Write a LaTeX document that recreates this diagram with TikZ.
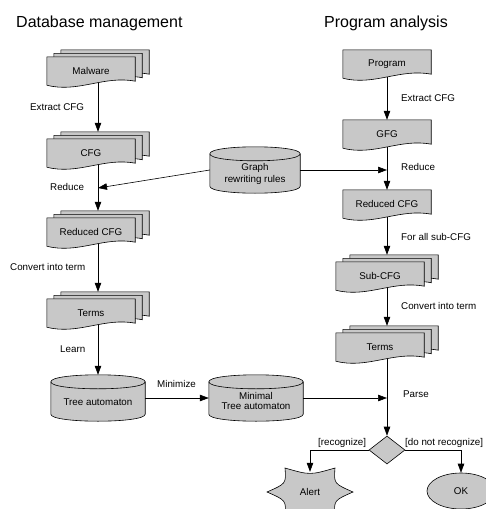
\documentclass[tikz,border=0pt]{standalone}
\usepackage{fontspec}
\setmainfont{Liberation Sans}
\usetikzlibrary{shapes.geometric,arrows.meta,calc}
\pgfdeclarelayer{bg}
\pgfsetlayers{bg,main}
\definecolor{shapegray}{RGB}{200,200,200}
\tikzset{
 shp/.style={draw=black, fill=shapegray, line width=0.6pt},
 shpline/.style={draw=black, line width=0.6pt},
 docbox/.style={minimum width=88pt, minimum height=28pt, inner sep=0pt, font=\fontsize{9.8}{12}\selectfont},
 cylnode/.style={minimum width=94pt, minimum height=46pt, inner sep=0pt, align=center, font=\fontsize{9.8}{12.5}\selectfont},
 lbl/.style={anchor=base west, inner sep=0pt, font=\fontsize{9.8}{12}\selectfont},
 ttl/.style={anchor=base west, inner sep=0pt, font=\fontsize{16}{19}\selectfont},
 arr/.style={draw=black, line width=0.6pt, -{Triangle[length=9pt,width=6.5pt]}},
 conn/.style={draw=black, line width=0.6pt},
}
% document shape around node #1, shifted by (#2,#3)
\newcommand{\mydoc}[3]{%
 \path[shp] ([shift={(#2,#3)}]#1.north west) -- ([shift={(#2,#3)}]#1.north east)
  -- ([shift={(#2,#3-4)}]#1.south east)
  .. controls ([shift={(#2-31,#3-10)}]#1.south east) and ([shift={(#2+31,#3+8)}]#1.south west)
  .. ([shift={(#2,#3)}]#1.south west) -- cycle;}
% cylinder around node #1
\newcommand{\mycyl}[1]{%
 \path[shp] ([shift={(0,7)}]#1.north west) -- ([shift={(0,-7)}]#1.south west)
  .. controls ([shift={(0,2.33)}]#1.south west) and ([shift={(0,2.33)}]#1.south east)
  .. ([shift={(0,-7)}]#1.south east) -- ([shift={(0,7)}]#1.north east)
  .. controls ([shift={(0,-2.33)}]#1.north east) and ([shift={(0,-2.33)}]#1.north west)
  .. cycle;
 \path[shpline] ([shift={(0,7)}]#1.north west)
  .. controls ([shift={(0,16.33)}]#1.north west) and ([shift={(0,16.33)}]#1.north east)
  .. ([shift={(0,7)}]#1.north east);}
% six-point star around node #1
\newcommand{\mystar}[1]{%
 \path[shp] ([shift={(43,0)}]#1.center)
  .. controls ([shift={(23.8,8.4)}]#1.center) .. ([shift={(25,24)}]#1.center)
  .. controls ([shift={(0,16.8)}]#1.center) .. ([shift={(-25,24)}]#1.center)
  .. controls ([shift={(-23.8,8.4)}]#1.center) .. ([shift={(-43,0)}]#1.center)
  .. controls ([shift={(-23.8,-8.4)}]#1.center) .. ([shift={(-25,-24)}]#1.center)
  .. controls ([shift={(0,-16.8)}]#1.center) .. ([shift={(25,-24)}]#1.center)
  .. controls ([shift={(23.8,-8.4)}]#1.center) .. cycle;}
\begin{document}
\begin{tikzpicture}[x=1pt,y=-1pt]
\useasboundingbox (0,0) rectangle (485,509);
% titles
\node[ttl] (t1) at (16,27) {Database management};
\node[ttl] (t2) at (324,27) {Program analysis};
% left column
\node[docbox] (malware) at (91,71) {Malware};
\node[docbox] (cfg) at (91,153) {CFG};
\node[docbox] (redcfg) at (91,232) {Reduced CFG};
\node[docbox] (termsL) at (91,313) {Terms};
\node[cylnode] (treeaut) at (98,398) {\raisebox{-4pt}[\height][\depth]{Tree automaton}};
\node[cylnode] (minimal) at (256,398) {\raisebox{-3pt}[\height][\depth]{\shortstack{Minimal\\Tree automaton}}};
\node[cylnode, minimum width=90pt] (gr) at (255,170) {\raisebox{-4pt}[\height][\depth]{\shortstack{Graph\\rewriting rules}}};
% right column
\node[docbox] (program) at (387,64) {Program};
\node[docbox] (gfg) at (387,134) {GFG};
\node[docbox] (redcfgR) at (387,204) {Reduced CFG};
\node[docbox] (subcfg) at (380,276) {Sub-CFG};
\node[docbox] (termsR) at (380,347) {Terms};
\node[diamond, shp, minimum width=36pt, minimum height=28pt, inner sep=0pt] (dia) at (387,450) {};
\node[minimum width=86pt, minimum height=40pt, inner sep=0pt, font=\fontsize{9.8}{12}\selectfont] (alert) at (310,492) {Alert};
\node[ellipse, shp, minimum width=68pt, minimum height=36pt, inner sep=0pt, font=\fontsize{9.8}{12}\selectfont] (ok) at (461,491) {OK};
% shapes on background
\begin{pgfonlayer}{bg}
 \mydoc{malware}{14}{-7}\mydoc{malware}{7}{-3.5}\mydoc{malware}{0}{0}
 \mydoc{cfg}{14}{-7}\mydoc{cfg}{7}{-3.5}\mydoc{cfg}{0}{0}
 \mydoc{redcfg}{14}{-7}\mydoc{redcfg}{7}{-3.5}\mydoc{redcfg}{0}{0}
 \mydoc{termsL}{14}{-7}\mydoc{termsL}{7}{-3.5}\mydoc{termsL}{0}{0}
 \mydoc{program}{0}{0}
 \mydoc{gfg}{0}{0}
 \mydoc{redcfgR}{0}{0}
 \mydoc{subcfg}{14}{-7}\mydoc{subcfg}{7}{-3.5}\mydoc{subcfg}{0}{0}
 \mydoc{termsR}{14}{-7}\mydoc{termsR}{7}{-3.5}\mydoc{termsR}{0}{0}
 \mycyl{treeaut}
 \mycyl{minimal}
 \mycyl{gr}
 \mystar{alert}
\end{pgfonlayer}
% junction coordinates
\coordinate (jL) at (98,188);
\coordinate (jR) at (387,170);
\coordinate (jP) at (387,398);
% labels
\node[lbl] (l1) at (30,110.5) {Extract CFG};
\node[lbl] (l2) at (50,190.5) {Reduce};
\node[lbl] (l3) at (10,270.5) {Convert into term};
\node[lbl] (l4) at (60,352.5) {Learn};
\node[lbl] (l5) at (157,387.5) {Minimize};
\node[lbl] (r1) at (401,101.5) {Extract CFG};
\node[lbl] (r2) at (401,170.5) {Reduce};
\node[lbl] (r3) at (401,240) {For all sub-CFG};
\node[lbl] (r4) at (401,309) {Convert into term};
\node[lbl] (r5) at (403,397.5) {Parse};
\node[lbl] (r6) at (318,445.5) {[recognize]};
\node[lbl] (r7) at (405,445.5) {[do not recognize]};
% connectors left
\draw[arr] ([shift={(7,-2)}]malware.south) -- ([shift={(7,-7)}]cfg.north);
\draw[arr] ([shift={(7,-2)}]cfg.south) -- ([shift={(7,-7)}]redcfg.north);
\draw[arr] ([shift={(7,-2)}]redcfg.south) -- ([shift={(7,-7)}]termsL.north);
\draw[arr] ([shift={(7,-2)}]termsL.south) -- (treeaut.north);
\draw[arr] (treeaut.east) -- (minimal.west);
\draw[arr] (gr.west) -- (jL);
% connectors right
\draw[arr] ([shift={(0,-1)}]program.south) -- (gfg.north);
\draw[arr] ([shift={(0,-1)}]gfg.south) -- (redcfgR.north);
\draw[arr] (gr.east) -- (jR);
\draw[arr] ([shift={(0,-1)}]redcfgR.south) -- ([shift={(7,-7)}]subcfg.north);
\draw[arr] ([shift={(7,-2)}]subcfg.south) -- ([shift={(7,-7)}]termsR.north);
\draw[arr] ([shift={(7,-2)}]termsR.south) -- (dia.north);
\draw[arr] (minimal.east) -- (jP);
\draw[arr] (dia.west) -| (alert.north);
\draw[arr] (dia.east) -| (ok.north);
\end{tikzpicture}
\end{document}
